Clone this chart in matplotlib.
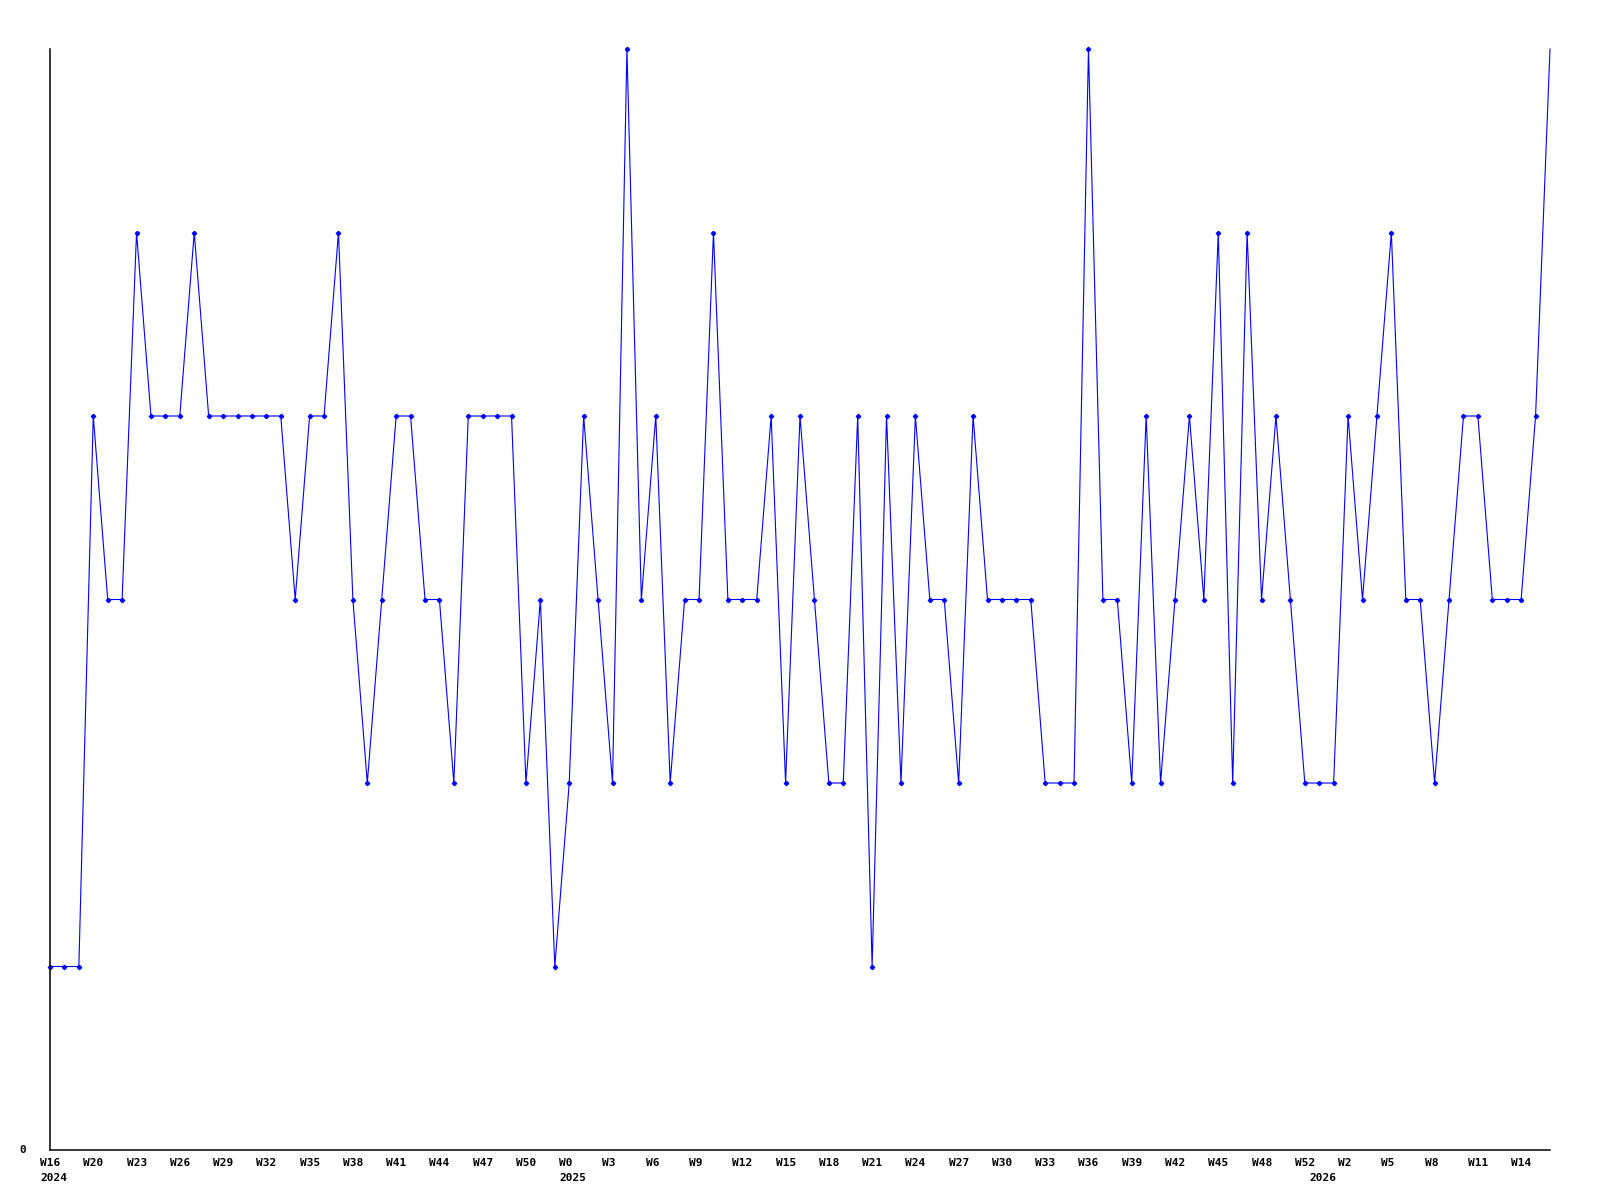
import matplotlib
matplotlib.use("Agg")
import matplotlib.pyplot as plt

# weekly counts, one per week (Wednesdays) from 2024 W16 to 2026 W15
values = [1, 1, 1, 4, 3, 3, 5, 4, 4, 4,
          5, 4, 4, 4, 4, 4, 4, 3, 4, 4,
          5, 3, 2, 3, 4, 4, 3, 3, 2, 4,
          4, 4, 4, 2, 3, 1, 2, 4, 3, 2,
          6, 3, 4, 2, 3, 3, 5, 3, 3, 3,
          4, 2, 4, 3, 2, 2, 4, 1, 4, 2,
          4, 3, 3, 2, 4, 3, 3, 3, 3, 2,
          2, 2, 6, 3, 3, 2, 4, 2, 3, 4,
          3, 5, 2, 5, 3, 4, 3, 2, 2, 2,
          4, 3, 4, 5, 3, 3, 2, 3, 4, 4,
          3, 3, 3, 4, 6]

week_labels = ["W16", "W20", "W23", "W26", "W29", "W32", "W35", "W38", "W41",
               "W44", "W47", "W50", "W0", "W3", "W6", "W9", "W12", "W15", "W18",
               "W21", "W24", "W27", "W30", "W33", "W36", "W39", "W42", "W45",
               "W48", "W52", "W2", "W5", "W8", "W11", "W14"]
week_pos = list(range(0, 103, 3))

year_labels = ["2024", "2025", "2026"]
year_pos = [0, 36, 88]

x = list(range(len(values)))

fig = plt.figure(figsize=(16, 12), dpi=100)
ax = fig.add_axes([50 / 1600, 50 / 1200, 1500 / 1600, 1101 / 1200])
# last point sits on the frame edge, drawn without a marker
ax.plot(x, values, color="#0000ff", linewidth=0.8, marker="D", markersize=2.2,
        markevery=list(range(len(values) - 1)), clip_on=False)
ax.set_xlim(0, len(values) - 1)
ax.set_ylim(0, 6)

for s in ["top", "right"]:
    ax.spines[s].set_visible(False)
ax.spines["left"].set_linewidth(1.1)
ax.spines["bottom"].set_linewidth(1.1)
ax.set_xticks([])
ax.set_yticks([])

font = dict(family="DejaVu Sans Mono", weight="bold", size=8)
for p, lab in zip(week_pos, week_labels):
    ax.annotate(lab, xy=(p, 0), xycoords=("data", "axes fraction"),
                xytext=(-10, -13), textcoords="offset pixels",
                ha="left", va="center", annotation_clip=False, **font)
for p, lab in zip(year_pos, year_labels):
    ax.annotate(lab, xy=(p, 0), xycoords=("data", "axes fraction"),
                xytext=(-10, -28), textcoords="offset pixels",
                ha="left", va="center", annotation_clip=False, **font)
ax.annotate("0", xy=(0, 0), xycoords="axes fraction", xytext=(-31, 0),
            textcoords="offset pixels", ha="left", va="center", **font)

fig.savefig("out.png", dpi=100)
